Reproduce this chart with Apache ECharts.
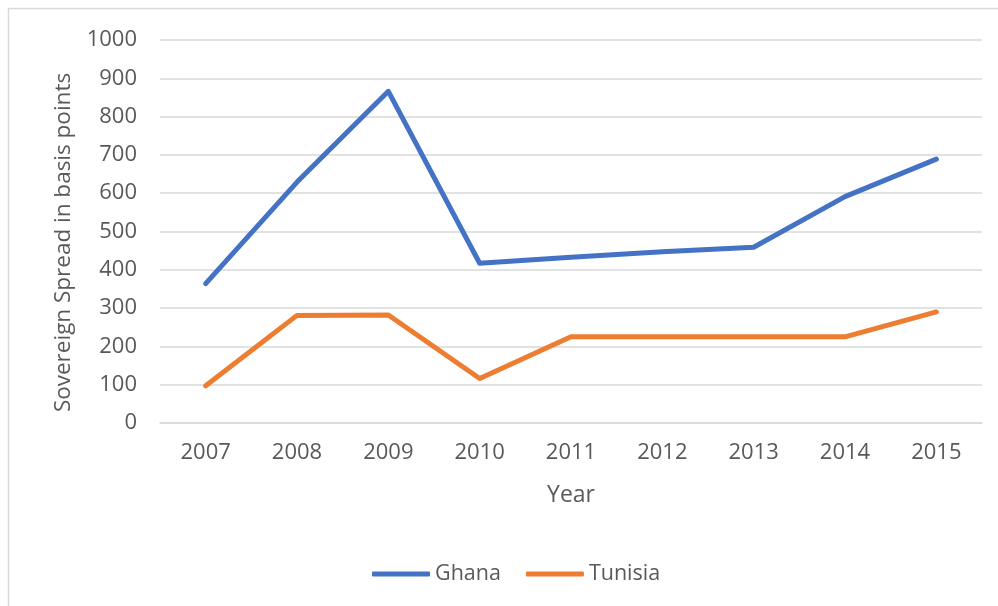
<!DOCTYPE html>
<html>
<head>
<meta charset="utf-8">
<script src="https://cdn.jsdelivr.net/npm/echarts@6/dist/echarts.min.js"></script>
<style>
  html, body { margin: 0; padding: 0; background: #ffffff; }
  #chart { width: 998px; height: 606px; }
</style>
</head>
<body>
<div id="chart"></div>
<script>
// Sovereign spreads (basis points), 2007–2015
const years = ['2007', '2008', '2009', '2010', '2011', '2012', '2013', '2014', '2015'];
const ghana = [364, 629, 866, 417, 433, 447, 459, 591, 689];
const tunisia = [97, 281, 282, 116, 225, 225, 225, 225, 290];

const textColor = '#595959';
const fontFamily = '"Open Sans", "Noto Sans", sans-serif';

const chart = echarts.init(document.getElementById('chart'), null, { renderer: 'canvas' });

chart.setOption({
  backgroundColor: '#ffffff',
  animation: false,
  graphic: [{
    type: 'rect',
    shape: { x: 8.5, y: 8.5, width: 1100, height: 700 },
    style: { fill: 'none', stroke: '#d9d9d9', lineWidth: 1.5 },
    silent: true
  }],
  grid: { left: 160, right: 16, top: 40, bottom: 183 },
  legend: {
    left: 367,
    top: 558,
    itemWidth: 58,
    itemHeight: 5,
    itemGap: 25,
    icon: 'roundRect',
    textStyle: { color: textColor, fontSize: 21.5, fontFamily: fontFamily },
    data: ['Ghana', 'Tunisia']
  },
  xAxis: {
    type: 'category',
    data: years,
    boundaryGap: true,
    name: 'Year',
    nameLocation: 'middle',
    nameGap: 61,
    nameTextStyle: { color: textColor, fontSize: 23, fontFamily: fontFamily },
    axisLine: { show: true, lineStyle: { color: '#d9d9d9', width: 1.5 } },
    axisTick: { show: false },
    axisLabel: { color: textColor, fontSize: 22, fontFamily: fontFamily, margin: 19 }
  },
  yAxis: {
    type: 'value',
    min: 0,
    max: 1000,
    interval: 100,
    name: 'Sovereign Spread in basis points',
    nameLocation: 'middle',
    nameGap: 85,
    nameTextStyle: {
      color: textColor, fontSize: 22.5, fontFamily: fontFamily,
      padding: [0, 22, 0, 0]
    },
    axisLine: { show: false },
    axisTick: { show: false },
    axisLabel: {
      color: textColor, fontSize: 22, fontFamily: fontFamily, margin: 23,
      formatter: function (v) { return String(v); }
    },
    splitLine: { show: true, lineStyle: { color: '#d9d9d9', width: 1.5 } }
  },
  series: [
    {
      name: 'Ghana',
      type: 'line',
      data: ghana,
      symbol: 'none',
      color: '#4472C4',
      lineStyle: { width: 5, cap: 'round', join: 'round' }
    },
    {
      name: 'Tunisia',
      type: 'line',
      data: tunisia,
      symbol: 'none',
      color: '#ED7D31',
      lineStyle: { width: 5, cap: 'round', join: 'round' }
    }
  ]
});
</script>
</body>
</html>
